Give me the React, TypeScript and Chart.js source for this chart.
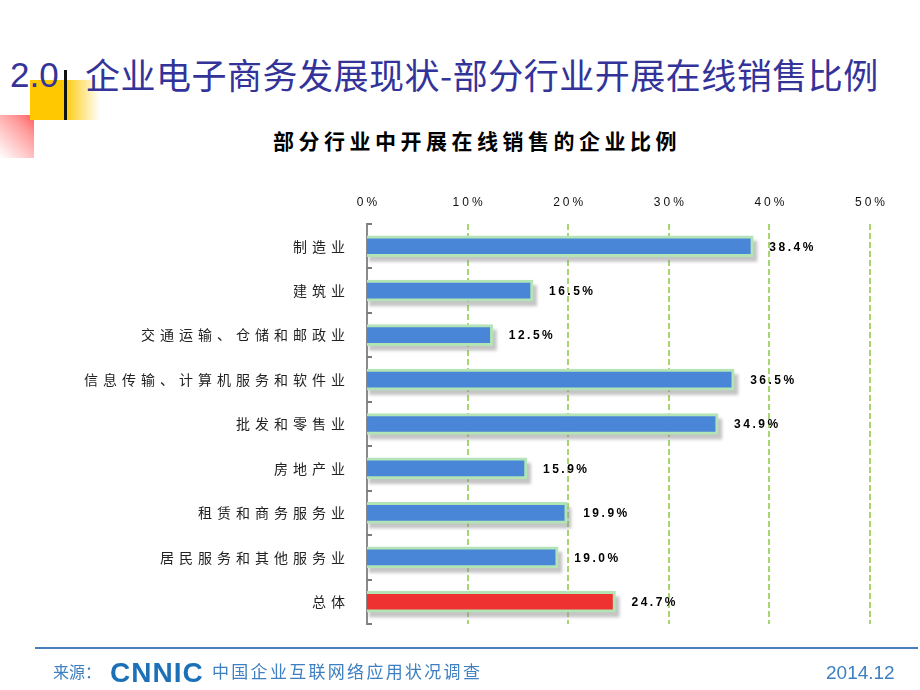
import React, { useEffect, useRef } from "react";
import { Chart, registerables } from "chart.js";

Chart.register(...registerables);

const categories = [
  "制造业",
  "建筑业",
  "交通运输、仓储和邮政业",
  "信息传输、计算机服务和软件业",
  "批发和零售业",
  "房地产业",
  "租赁和商务服务业",
  "居民服务和其他服务业",
  "总体",
];
const shares = [38.4, 16.5, 12.5, 36.5, 34.9, 15.9, 19.9, 19.0, 24.7];
const axisMin = 0;
const axisMax = 50;
const axisStep = 10;

const slideTitleNum = "2.0";
const slideTitle = "企业电子商务发展现状-部分行业开展在线销售比例";
const chartTitle = "部分行业中开展在线销售的企业比例";
const sourceLabel = "来源：";
const sourceLogo = "CNNIC";
const sourceName = "中国企业互联网络应用状况调查";
const dateLabel = "2014.12";

const BLUE = "#4a86d8";
const RED = "#ee3232";
const EDGE = "#b2e4b6";
const GRID = "#a6d672";
const CJK = '"Noto Sans CJK SC", "Noto Sans", sans-serif';
const LATIN = '"Liberation Sans", Arial, sans-serif';
const FOOT = "#3d7fc1";

const decor = {
  id: "decor",
  beforeDraw(chart: any) {
    chart.ctx.letterSpacing = "5px";
  },
  beforeDatasetsDraw(chart: any) {
    const { ctx, chartArea } = chart;
    const x = chart.scales.x;
    const y = chart.scales.y;
    ctx.save();
    ctx.letterSpacing = "0px";
    // dashed vertical grid lines
    ctx.strokeStyle = GRID;
    ctx.lineWidth = 2;
    ctx.setLineDash([6, 3]);
    x.ticks.forEach((t: any) => {
      if (t.value <= axisMin) return;
      const px = Math.round(x.getPixelForValue(t.value));
      ctx.beginPath();
      ctx.moveTo(px, chartArea.top);
      ctx.lineTo(px, chartArea.bottom);
      ctx.stroke();
    });
    ctx.setLineDash([]);
    // small category tick marks inside the axis
    ctx.fillStyle = "#7c7c7c";
    for (let i = 0; i <= categories.length; i++) {
      const py = Math.round(y.getPixelForValue(i - 0.5));
      ctx.fillRect(chartArea.left, py - 1, 5, 2);
    }
    // bar shadows
    const meta = chart.getDatasetMeta(0);
    ctx.filter = "blur(1.5px)";
    ctx.fillStyle = "rgba(140,140,140,0.5)";
    meta.data.forEach((bar: any) => {
      const p = bar.getProps(["x", "y", "base", "height"], true);
      ctx.fillRect(p.base + 2, p.y - p.height / 2 + 5, p.x - p.base + 2, p.height);
    });
    ctx.restore();
  },
  afterDatasetsDraw(chart: any) {
    const { ctx } = chart;
    const meta = chart.getDatasetMeta(0);
    ctx.save();
    ctx.letterSpacing = "2.5px";
    ctx.font = `bold 12px ${LATIN}`;
    ctx.fillStyle = "#000";
    ctx.textAlign = "left";
    ctx.textBaseline = "middle";
    meta.data.forEach((bar: any, i: number) => {
      const p = bar.getProps(["x", "y"], true);
      ctx.fillText(`${shares[i].toFixed(1)}%`, p.x + 16, p.y + 1);
    });
    ctx.restore();
  },
  afterDraw(chart: any) {
    const { ctx } = chart;
    const x = chart.scales.x;
    ctx.save();
    ctx.letterSpacing = "3px";
    ctx.font = `12px ${LATIN}`;
    ctx.fillStyle = "#111";
    ctx.textAlign = "center";
    ctx.textBaseline = "middle";
    x.ticks.forEach((t: any) => {
      ctx.fillText(`${t.value}%`, x.getPixelForValue(t.value) + 1.5, 203);
    });
    ctx.restore();
    ctx.letterSpacing = "0px";
  },
};

function BarChart() {
  const ref = useRef<HTMLCanvasElement | null>(null);
  useEffect(() => {
    if (!ref.current) return;
    const chart = new Chart(ref.current, {
      type: "bar",
      data: {
        labels: categories,
        datasets: [
          {
            data: shares,
            backgroundColor: (c: any) => (c.dataIndex === categories.length - 1 ? RED : BLUE),
            borderColor: EDGE,
            borderWidth: 3,
            borderSkipped: "start",
            barThickness: 21,
          },
        ],
      },
      options: {
        indexAxis: "y",
        responsive: false,
        animation: false,
        devicePixelRatio: 1,
        layout: { padding: { left: 0, top: 0, right: 50, bottom: 66 } },
        plugins: {
          legend: { display: false },
          tooltip: { enabled: false },
          title: { display: false },
        },
        scales: {
          x: {
            position: "top",
            min: axisMin,
            max: axisMax,
            ticks: { stepSize: axisStep, display: false },
            grid: { display: false },
            border: { display: false },
            afterFit: (s: any) => {
              s.height = 224;
            },
          },
          y: {
            ticks: {
              color: "#222",
              font: { family: CJK, size: 14 },
              padding: 9,
              autoSkip: false,
            },
            grid: { display: false },
            border: { display: true, color: "#8a8a8a", width: 2 },
            afterFit: (s: any) => {
              s.width = 367;
            },
          },
        },
      } as any,
      plugins: [decor],
    });
    return () => chart.destroy();
  }, []);
  return (
    <canvas
      ref={ref}
      width={920}
      height={690}
      style={{ position: "absolute", left: 0, top: 0, width: 920, height: 690 }}
    />
  );
}

export default function App() {
  return (
    <div
      style={{
        position: "fixed",
        left: 0,
        top: 0,
        width: 920,
        height: 690,
        background: "#fff",
        overflow: "hidden",
      }}
    >
      {/* decorative blocks */}
      <div
        style={{
          position: "absolute",
          left: 0,
          top: 115,
          width: 57,
          height: 43,
          background: "linear-gradient(225deg, #ff1e1e 0%, #f99 45%, #fff 100%)",
        }}
      />
      <div style={{ position: "absolute", left: 34, top: 120, width: 80, height: 50, background: "#fff" }} />
      <div
        style={{
          position: "absolute",
          left: 30,
          top: 80,
          width: 70,
          height: 40,
          background: "linear-gradient(to right, #ffc800 0%, #ffc800 48%, #fff 100%)",
        }}
      />
      <div style={{ position: "absolute", left: 64, top: 70, width: 3, height: 50, background: "#111" }} />
      <div
        style={{
          position: "absolute",
          left: 10,
          top: 57,
          fontFamily: LATIN,
          fontSize: 35,
          lineHeight: 1,
          color: "#333399",
          whiteSpace: "nowrap",
        }}
      >
        {slideTitleNum}
      </div>
      <div
        style={{
          position: "absolute",
          left: 85,
          top: 56,
          fontFamily: CJK,
          fontSize: 35,
          letterSpacing: 0.5,
          lineHeight: 1,
          color: "#333399",
          whiteSpace: "nowrap",
        }}
      >
        {slideTitle}
      </div>
      <div
        style={{
          position: "absolute",
          left: 273,
          top: 130,
          fontFamily: CJK,
          fontSize: 21,
          fontWeight: 700,
          letterSpacing: 4.5,
          lineHeight: 1,
          color: "#000",
          whiteSpace: "nowrap",
        }}
      >
        {chartTitle}
      </div>
      <BarChart />
      {/* footer */}
      <div style={{ position: "absolute", left: 35, top: 647, width: 883, height: 2, background: "#4a7ebb" }} />
      <div
        style={{
          position: "absolute",
          left: 53,
          top: 663,
          fontFamily: CJK,
          fontSize: 16,
          lineHeight: 1,
          color: FOOT,
          whiteSpace: "nowrap",
        }}
      >
        {sourceLabel}
      </div>
      <div
        style={{
          position: "absolute",
          left: 110,
          top: 659,
          fontFamily: LATIN,
          fontSize: 28,
          fontWeight: 700,
          letterSpacing: 1,
          lineHeight: 1,
          color: "#1b70b8",
          whiteSpace: "nowrap",
        }}
      >
        {sourceLogo}
      </div>
      <div
        style={{
          position: "absolute",
          left: 212,
          top: 662,
          fontFamily: CJK,
          fontSize: 17,
          letterSpacing: 2.3,
          lineHeight: 1,
          color: FOOT,
          whiteSpace: "nowrap",
        }}
      >
        {sourceName}
      </div>
      <div
        style={{
          position: "absolute",
          left: 826,
          top: 663,
          fontFamily: LATIN,
          fontSize: 19,
          lineHeight: 1,
          color: FOOT,
          whiteSpace: "nowrap",
        }}
      >
        {dateLabel}
      </div>
    </div>
  );
}
